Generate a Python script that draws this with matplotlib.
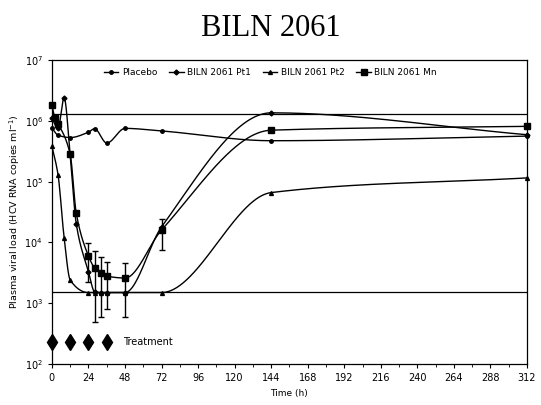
import numpy as np
import matplotlib
matplotlib.use("Agg")
import matplotlib.pyplot as plt
from matplotlib.ticker import LogLocator, FixedLocator, MultipleLocator

# values (time in h, copies/ml)
placebo_t = [0, 4, 12, 24, 28, 36, 48, 72, 144, 312]
placebo_v = [7.6e5, 5.8e5, 5.3e5, 6.5e5, 7.4e5, 4.3e5, 7.5e5, 6.8e5, 4.7e5, 5.6e5]

pt1_t = [0, 4, 8, 12, 16, 24, 28, 32, 36, 48, 72, 144, 312]
pt1_v = [1.1e6, 7.5e5, 2.4e6, 2.7e5, 2.0e4, 3.3e3, 1.55e3, 1.5e3, 1.5e3, 1.5e3, 1.8e4, 1.35e6, 5.9e5]

pt2_t = [0, 4, 8, 12, 24, 28, 32, 36, 48, 72, 144, 312]
pt2_v = [3.8e5, 1.3e5, 1.2e4, 2.4e3, 1.5e3, 1.5e3, 1.5e3, 1.5e3, 1.5e3, 1.5e3, 6.6e4, 1.15e5]

mn_t = [0, 2, 4, 12, 16, 24, 28, 32, 36, 48, 72, 144, 312]
mn_v = [1.8e6, 1.1e6, 9.0e5, 2.8e5, 3.0e4, 6.0e3, 3.8e3, 3.2e3, 2.8e3, 2.6e3, 1.6e4, 7.0e5, 8.1e5]

# SD shown as error bars on the mean
err_t = [24, 28, 32, 36, 48, 72]
err_mean = [6.0e3, 3.8e3, 3.2e3, 2.8e3, 2.6e3, 1.6e4]
err_sd = [3.8e3, 3.3e3, 2.6e3, 2.0e3, 2.0e3, 8.4e3]

upper_ref = 1.28e6
lower_ref = 1.55e3
treat_t = [0, 12, 24, 36]
treat_y = 2.3e2


def smooth(x, y, n=600):
    # monotone cubic (Fritsch-Carlson) curve through the points, in log10 space
    x = np.asarray(x, float)
    y = np.log10(np.asarray(y, float))
    h = np.diff(x)
    d = np.diff(y) / h
    m = np.zeros(len(x))
    for i in range(1, len(x) - 1):
        if d[i - 1] * d[i] > 0:
            w1 = 2 * h[i] + h[i - 1]
            w2 = h[i] + 2 * h[i - 1]
            m[i] = (w1 + w2) / (w1 / d[i - 1] + w2 / d[i])
    m[0] = d[0]
    m[-1] = d[-1]
    xs = np.linspace(x[0], x[-1], n)
    idx = np.clip(np.searchsorted(x, xs) - 1, 0, len(x) - 2)
    hh = h[idx]
    s = (xs - x[idx]) / hh
    h00 = 2 * s**3 - 3 * s**2 + 1
    h10 = s**3 - 2 * s**2 + s
    h01 = -2 * s**3 + 3 * s**2
    h11 = s**3 - s**2
    ys = h00 * y[idx] + h10 * hh * m[idx] + h01 * y[idx + 1] + h11 * hh * m[idx + 1]
    return xs, 10 ** ys


fig = plt.figure(figsize=(5.41, 4.05), dpi=100)
ax = fig.add_axes([0.096, 0.101, 0.878, 0.751])

series = [
    ("Placebo", placebo_t, placebo_v, "o", 2.5),
    ("BILN 2061 Pt1", pt1_t, pt1_v, "D", 2.5),
    ("BILN 2061 Pt2", pt2_t, pt2_v, "^", 2.8),
    ("BILN 2061 Mn", mn_t, mn_v, "s", 3.8),
]
for label, t, v, mk, ms in series:
    xs, ys = smooth(t, v)
    ax.plot(xs, ys, color="black", lw=1.0)
    ax.plot(t, v, ls="none", marker=mk, ms=ms, color="black", clip_on=False)
    ax.plot([], [], color="black", lw=1.0, marker=mk, ms=ms, label=label)

ax.errorbar(err_t, err_mean, yerr=err_sd, fmt="none", ecolor="black",
            elinewidth=1.0, capsize=2.5, capthick=1.0)

ax.axhline(upper_ref, color="black", lw=0.9)
ax.axhline(lower_ref, color="black", lw=0.9)

ax.plot(treat_t, [treat_y] * len(treat_t), ls="none", marker="d", ms=8,
        color="black", clip_on=False)
ax.text(47, treat_y, "Treatment", fontsize=7, va="center", ha="left")

ax.set_yscale("log")
ax.set_ylim(1e2, 1e7)
ax.set_xlim(0, 312)
ax.xaxis.set_major_locator(MultipleLocator(24))
ax.xaxis.set_minor_locator(MultipleLocator(12))
ax.yaxis.set_major_locator(LogLocator(base=10, numticks=10))
ax.yaxis.set_minor_locator(FixedLocator([]))
ax.tick_params(labelsize=7, length=3, width=0.8, direction="out")
ax.tick_params(which="minor", length=2, width=0.6)
for s in ax.spines.values():
    s.set_linewidth(0.9)

ax.set_xlabel("Time (h)", fontsize=6.5, labelpad=4)
ax.set_ylabel("Plasma viral load (HCV RNA copies ml$^{-1}$)", fontsize=6.8, labelpad=2)

ax.legend(loc="upper center", ncol=4, frameon=False, fontsize=6.5,
          handlelength=1.6, handletextpad=0.4, columnspacing=1.3,
          bbox_to_anchor=(0.46, 1.0))

fig.text(0.5, 0.93, "BILN 2061", fontsize=22, family="Liberation Serif",
         ha="center", va="center")

fig.savefig("out.png", dpi=100)
